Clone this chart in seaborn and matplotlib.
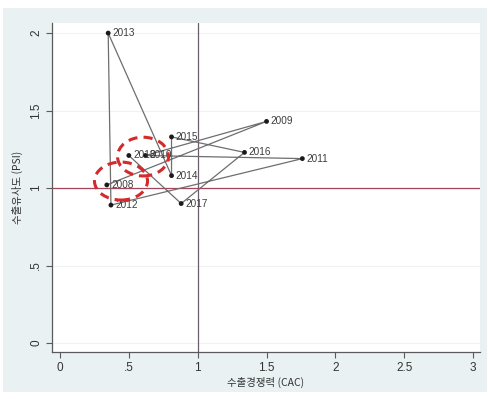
import matplotlib
matplotlib.use("Agg")
import matplotlib.pyplot as plt
from matplotlib.patches import Ellipse, Rectangle
import numpy as np
import pandas as pd
import seaborn as sns

# Yearly export competitiveness (CAC) vs. export similarity (PSI)
years = ["2008", "2009", "2010", "2011", "2012", "2013",
         "2014", "2015", "2016", "2017", "2018"]
cac = [0.34, 1.50, 0.62, 1.76, 0.37, 0.35, 0.81, 0.81, 1.34, 0.88, 0.50]
psi = [1.02, 1.43, 1.21, 1.19, 0.89, 2.00, 1.08, 1.33, 1.23, 0.90, 1.21]

x_ticks = [0, 0.5, 1, 1.5, 2, 2.5, 3]
x_tick_labels = ["0", ".5", "1", "1.5", "2", "2.5", "3"]
y_ticks = [0, 0.5, 1, 1.5, 2]
y_tick_labels = ["0", ".5", "1", "1.5", "2"]

# highlighted groups: (center cac, center psi, width, height)
highlights = [(0.443, 1.045, 0.385, 0.245),
              (0.603, 1.203, 0.370, 0.250)]

df = pd.DataFrame({"year": years, "cac": cac, "psi": psi})

sns.set_style("white")
plt.rcParams["font.family"] = ["Liberation Sans", "Noto Sans CJK KR", "DejaVu Sans"]

fig = plt.figure(figsize=(4.88, 3.99), dpi=100)
fig.patch.set_facecolor("white")
fig.patches.append(Rectangle((3 / 488, 7 / 399), 484 / 488, 384 / 399,
                             transform=fig.transFigure, facecolor="#eaf1f3",
                             edgecolor="none", zorder=-10))

ax = fig.add_axes([52 / 488, 47 / 399, 428 / 488, 329 / 399])
ax.set_zorder(1)
ax.set_facecolor("white")

# light horizontal grid
for yv in y_ticks:
    ax.axhline(yv, color="#f0f3f4", lw=0.8, zorder=0)

# reference lines
ax.axvline(1, color="#6b5e6b", lw=0.9, zorder=1)
ax.axhline(1, color="#a3435c", lw=0.9, zorder=1)

sns.lineplot(data=df, x="cac", y="psi", sort=False, estimator=None,
             color="#6e6e6e", lw=0.9, ax=ax, zorder=2)
sns.scatterplot(data=df, x="cac", y="psi", color="#1a1a1a", s=12,
                edgecolor="none", ax=ax, zorder=3)

for _, r in df.iterrows():
    ax.annotate(r["year"], (r["cac"], r["psi"]), xytext=(3, 0),
                textcoords="offset points", va="center", ha="left",
                fontsize=7.2, color="#3c3c3c", zorder=4)

for cx, cy, w, h in highlights:
    ax.add_patch(Ellipse((cx, cy), w, h, fill=False, edgecolor="#d42a2a",
                         lw=2.2, linestyle=(0, (3, 2)), zorder=5))

ax.set_xlim(-0.058, 3.05)
ax.set_ylim(-0.058, 2.065)
ax.set_xticks(x_ticks)
ax.set_xticklabels(x_tick_labels)
ax.set_yticks(y_ticks)
ax.set_yticklabels(y_tick_labels, rotation=90, va="center")

for side in ["top", "right"]:
    ax.spines[side].set_visible(False)
for side in ["left", "bottom"]:
    ax.spines[side].set_color("#5a5a5a")
    ax.spines[side].set_linewidth(0.9)

ax.tick_params(axis="both", direction="out", length=4, width=0.8,
               color="#5a5a5a", labelsize=8.5, labelcolor="#333333", pad=3)
ax.tick_params(axis="x", bottom=True)
ax.tick_params(axis="y", left=True)

ax.set_xlabel("수출경쟁력 (CAC)", fontsize=7.5, color="#333333", labelpad=2,
              family=["Noto Sans CJK KR", "DejaVu Sans"])
ax.set_ylabel("수출유사도 (PSI)", fontsize=7.5, color="#333333",
              family=["Noto Sans CJK KR", "DejaVu Sans"])
ax.yaxis.set_label_coords(-0.068, 0.5)

fig.savefig("out.png", dpi=100)
